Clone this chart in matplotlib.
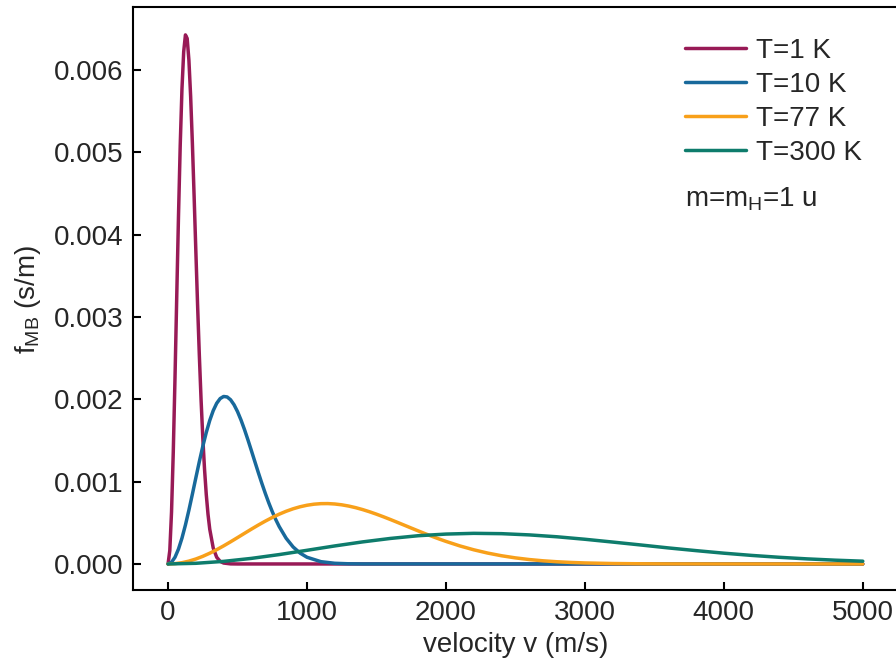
import matplotlib
matplotlib.use("Agg")
import matplotlib.pyplot as plt

plt.rcParams['font.family'] = ['Liberation Sans', 'DejaVu Sans']
plt.rcParams['mathtext.fontset'] = 'custom'
plt.rcParams['mathtext.rm'] = 'Liberation Sans'

# values (velocity in m/s, f in s/m)
v_1k = [0, 12.5, 25, 37.5, 50, 62.5, 75, 87.5, 100, 112.5, 125, 137.5, 150, 162.5,
        175, 187.5, 200, 212.5, 225, 237.5, 250, 262.5, 275, 287.5, 300, 325, 350,
        375, 400, 450, 500, 5000]
f_1k = [0, 0.0001629, 0.0006335, 0.0013599, 0.0022637, 0.0032503, 0.0042207,
        0.0050844, 0.0057677, 0.0062222, 0.0064259, 0.0063828, 0.0061200, 0.0056787,
        0.0051103, 0.0044672, 0.0037983, 0.0031449, 0.0025378, 0.0019972, 0.0015340,
        0.0011505, 0.0008430, 0.0006036, 0.0004226, 0.0001939, 0.0000815, 0.0000314,
        0.0000112, 0.0000011, 0, 0]

v_10k = [0, 25, 50, 75, 100, 125, 150, 175, 200, 225, 250, 275, 300, 325, 350, 375,
         400, 425, 450, 475, 500, 525, 550, 575, 600, 625, 650, 675, 700, 725, 750,
         775, 800, 850, 900, 950, 1000, 1100, 1200, 1300, 1400, 5000]
f_10k = [0, 0.0000207, 0.0000820, 0.0001810, 0.0003134, 0.0004733, 0.0006540,
         0.0008477, 0.0010466, 0.0012426, 0.0014283, 0.0015971, 0.0017433, 0.0018624,
         0.0019516, 0.0020090, 0.0020344, 0.0020288, 0.0019942, 0.0019334, 0.0018502,
         0.0017485, 0.0016326, 0.0015068, 0.0013750, 0.0012411, 0.0011081, 0.0009792,
         0.0008565, 0.0007415, 0.0006357, 0.0005397, 0.0004539, 0.0003119, 0.0002066,
         0.0001320, 0.0000814, 0.0000279, 0.0000083, 0.0000022, 0.0000005, 0]

v_77k = [0, 50, 100, 150, 200, 250, 300, 350, 400, 450, 500, 550, 600, 650, 700,
         750, 800, 850, 900, 950, 1000, 1050, 1100, 1150, 1200, 1250, 1300, 1350,
         1400, 1450, 1500, 1550, 1600, 1650, 1700, 1750, 1800, 1850, 1900, 1950,
         2000, 2100, 2200, 2300, 2400, 2500, 2600, 2700, 2800, 2900, 3000, 3200,
         3400, 3600, 4000, 5000]
f_77k = [0, 0.0000039, 0.0000155, 0.0000344, 0.0000604, 0.0000927, 0.0001307,
         0.0001734, 0.0002199, 0.0002693, 0.0003203, 0.0003720, 0.0004233, 0.0004731,
         0.0005205, 0.0005646, 0.0006047, 0.0006401, 0.0006702, 0.0006947, 0.0007133,
         0.0007259, 0.0007325, 0.0007333, 0.0007284, 0.0007183, 0.0007033, 0.0006839,
         0.0006606, 0.0006340, 0.0006046, 0.0005731, 0.0005400, 0.0005058, 0.0004711,
         0.0004363, 0.0004019, 0.0003681, 0.0003353, 0.0003040, 0.0002741, 0.0002193,
         0.0001721, 0.0001324, 0.0000998, 0.0000739, 0.0000536, 0.0000382, 0.0000268,
         0.0000184, 0.0000124, 0.0000054, 0.0000022, 0.0000008, 0.0000001, 0]

v_300k = [0, 200, 400, 600, 800, 1000, 1200, 1400, 1600, 1800, 2000, 2200, 2400,
          2600, 2800, 3000, 3200, 3400, 3600, 3800, 4000, 4200, 4400, 4600, 4800, 5000]
f_300k = [0, 0.0000080, 0.0000314, 0.0000678, 0.000114, 0.000166, 0.000219, 0.000268,
          0.000310, 0.000343, 0.000363, 0.000372, 0.000368, 0.000353, 0.000330,
          0.000300, 0.000266, 0.000231, 0.000195, 0.000162, 0.000131, 0.000104,
          0.0000809, 0.0000617, 0.0000461, 0.0000337]

labels = ['T=1 K', 'T=10 K', 'T=77 K', 'T=300 K']
colors = ['#981a56', '#18699b', '#f8a01a', '#0e7c6c']
txt = '#262626'

fig = plt.figure(figsize=(8.96, 6.66), dpi=100)
ax = fig.add_axes([0.1488, 0.1134, 0.8529, 0.8755])

for vv, ff, lab, c in zip([v_1k, v_10k, v_77k, v_300k], [f_1k, f_10k, f_77k, f_300k],
                          labels, colors):
    ax.plot(vv, ff, color=c, lw=2.5, label=lab, solid_capstyle='round',
            solid_joinstyle='round')

ax.set_xlim(-250, 5250)
ax.set_ylim(-0.000322, 0.00676)
ax.set_xticks([0, 1000, 2000, 3000, 4000, 5000])
ax.set_yticks([0, 0.001, 0.002, 0.003, 0.004, 0.005, 0.006])
ax.set_yticklabels(['0.000', '0.001', '0.002', '0.003', '0.004', '0.005', '0.006'])

for s in ax.spines.values():
    s.set_linewidth(1.5)
ax.tick_params(direction='in', length=6, width=1.5, labelsize=20, pad=7,
               labelcolor=txt)

ax.set_xlabel('velocity v (m/s)', fontsize=20, color=txt, labelpad=4)
ax.set_ylabel(r'$\mathregular{f_{MB}}$ (s/m)', fontsize=20, color=txt, labelpad=8)

ax.legend(loc='upper left', bbox_to_anchor=(0.7219, 0.9475), frameon=False,
          fontsize=20, handlelength=2.2, handletextpad=0.35, labelspacing=0.29,
          borderpad=0, borderaxespad=0, labelcolor=txt)
ax.text(0.7219, 0.658, r'm=m$\mathregular{_H}$=1 u', transform=ax.transAxes,
        fontsize=20, color=txt, va='baseline', ha='left')

fig.savefig('out.png', dpi=100)
